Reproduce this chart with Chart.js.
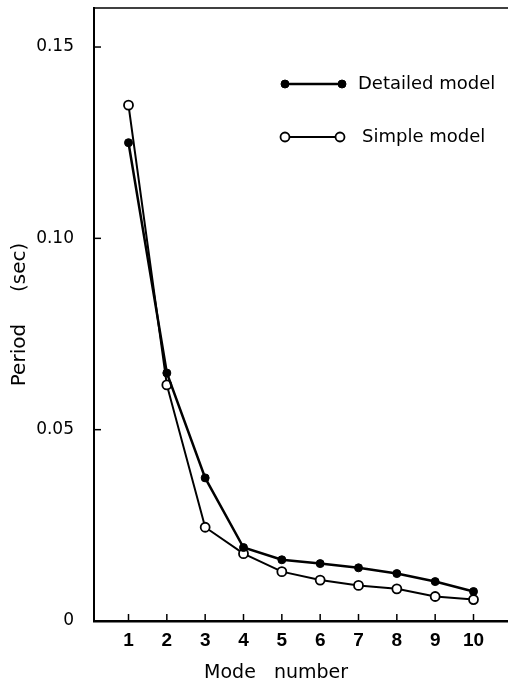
<!DOCTYPE html>
<html>
<head>
<meta charset="utf-8">
<script src="https://cdn.jsdelivr.net/npm/chart.js@4.4.0/dist/chart.umd.min.js"></script>
<style>
html, body { margin: 0; padding: 0; background: #fff; overflow: hidden; }
canvas { display: block; }
</style>
</head>
<body>
<canvas id="periodChart" width="508" height="688"></canvas>
<script>
const modes = [1, 2, 3, 4, 5, 6, 7, 8, 9, 10];
const detailedPeriod = [0.125, 0.0648, 0.0374, 0.0192, 0.0160, 0.0150, 0.0139, 0.0124, 0.0103, 0.0077];
const simplePeriod = [0.1348, 0.0617, 0.0245, 0.0176, 0.0129, 0.0107, 0.0093, 0.0084, 0.0064, 0.0056];
const yTicks = [0, 0.05, 0.10, 0.15];
const yTickLabels = ['0', '0.05', '0.10', '0.15'];
const seriesNames = ['Detailed model', 'Simple model'];
const xTitle = 'Mode   number';
const yTitle = 'Period     (sec)';

const toPoints = vals => vals.map((v, i) => ({x: modes[i], y: v}));

// frame, inward ticks, legend and x title
const decor = {
    id: 'decor',
    afterDraw(chart) {
        const {ctx, chartArea} = chart;
        const xs = chart.scales.x, ys = chart.scales.y;
        ctx.save();
        ctx.strokeStyle = '#000';
        ctx.lineWidth = 1.5;
        ctx.beginPath();
        ctx.moveTo(chartArea.left, chartArea.top);
        ctx.lineTo(chart.width, chartArea.top);
        ctx.stroke();

        ctx.lineWidth = 1.5;
        yTicks.slice(1).forEach(t => {
            const py = ys.getPixelForValue(t);
            ctx.beginPath();
            ctx.moveTo(chartArea.left, py);
            ctx.lineTo(chartArea.left + 7, py);
            ctx.stroke();
        });
        modes.forEach(m => {
            const px = xs.getPixelForValue(m);
            ctx.beginPath();
            ctx.moveTo(px, chartArea.bottom);
            ctx.lineTo(px, chartArea.bottom - 7);
            ctx.stroke();
        });

        // legend
        const rows = [{y: 84, x0: 285, x1: 342, tx: 358}, {y: 137, x0: 285, x1: 340, tx: 362}];
        chart.data.datasets.forEach((ds, i) => {
            const r = rows[i];
            ctx.lineWidth = ds.borderWidth;
            ctx.beginPath();
            ctx.moveTo(r.x0, r.y);
            ctx.lineTo(r.x1, r.y);
            ctx.stroke();
            [r.x0, r.x1].forEach(cx => {
                ctx.beginPath();
                ctx.arc(cx, r.y, ds.pointRadius, 0, Math.PI * 2);
                ctx.fillStyle = ds.pointBackgroundColor;
                ctx.fill();
                ctx.lineWidth = ds.pointBorderWidth;
                ctx.stroke();
            });
            ctx.fillStyle = '#000';
            ctx.font = '18px "DejaVu Sans"';
            ctx.textBaseline = 'middle';
            ctx.textAlign = 'left';
            ctx.fillText(ds.label, r.tx, r.y);
        });

        ctx.font = '19px "DejaVu Sans"';
        ctx.textAlign = 'center';
        ctx.textBaseline = 'middle';
        ctx.fillText(xTitle, xs.getPixelForValue(4.85), 673);
        ctx.restore();
    }
};

const ctx = document.getElementById('periodChart').getContext('2d');
new Chart(ctx, {
    type: 'line',
    data: {
        datasets: [{
            label: seriesNames[0],
            data: toPoints(detailedPeriod),
            borderColor: '#000',
            borderWidth: 2.5,
            pointRadius: 4,
            pointBackgroundColor: '#000',
            pointBorderColor: '#000',
            pointBorderWidth: 1,
            tension: 0
        }, {
            label: seriesNames[1],
            data: toPoints(simplePeriod),
            borderColor: '#000',
            borderWidth: 2,
            pointRadius: 4.5,
            pointBackgroundColor: '#fff',
            pointBorderColor: '#000',
            pointBorderWidth: 1.8,
            tension: 0
        }]
    },
    options: {
        responsive: false,
        animation: false,
        layout: {autoPadding: false, padding: {top: 8, right: 0, left: 0, bottom: 0}},
        plugins: {
            legend: {display: false},
            tooltip: {enabled: false}
        },
        scales: {
            x: {
                type: 'linear',
                min: 0.1,
                max: 10.9,
                afterBuildTicks: s => { s.ticks = modes.map(v => ({value: v})); },
                afterFit: s => { s.height = 67; s.paddingLeft = 0; s.paddingRight = 0; },
                grid: {display: false},
                border: {display: true, color: '#000', width: 2.5},
                ticks: {
                    color: '#000',
                    padding: 0,
                    maxRotation: 0,
                    font: {family: '"Liberation Sans"', size: 19, weight: 'bold'}
                }
            },
            y: {
                min: 0,
                max: 0.1602,
                afterBuildTicks: s => { s.ticks = yTicks.map(v => ({value: v})); },
                afterFit: s => { s.width = 94; s.paddingTop = 0; s.paddingBottom = 0; },
                grid: {display: false},
                border: {display: true, color: '#000', width: 2},
                ticks: {
                    color: '#000',
                    padding: 12,
                    font: {family: '"DejaVu Sans"', size: 17},
                    callback: (v) => yTickLabels[yTicks.indexOf(v)] ?? ''
                },
                title: {
                    display: true,
                    text: yTitle,
                    color: '#000',
                    padding: {top: 8, bottom: 0},
                    font: {family: '"DejaVu Sans"', size: 20}
                }
            }
        }
    },
    plugins: [decor]
});
</script>
</body>
</html>
